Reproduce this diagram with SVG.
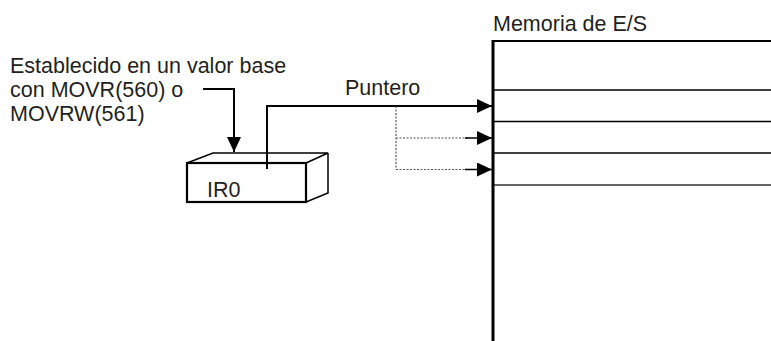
<svg xmlns="http://www.w3.org/2000/svg" width="771" height="341" viewBox="0 0 771 341">
<style>
text{font-family:"Liberation Sans",Arial,sans-serif;font-size:21.5px;fill:#231f20}
.k{stroke:#000;fill:none}
.dot{stroke:#555;fill:none;stroke-width:1.2;stroke-dasharray:2 1.5}
</style>
<defs>
<marker id="ah" markerWidth="15" markerHeight="14" refX="15" refY="7" orient="auto" markerUnits="userSpaceOnUse">
<path d="M0,0 L15,7 L0,14 Z" fill="#000"/>
</marker>
</defs>
<g id="label">
<text x="10" y="73">Establecido en un valor base</text>
<text x="10" y="97">con MOVR(560) o</text>
<text x="10" y="121">MOVRW(561)</text>
</g>
<g id="ir0">
<path class="k" stroke-width="1.5" d="M187,163 L213,153 L328,153 L306,163 M328,153 L328,193 L306,202"/>
<rect class="k" x="187" y="163" width="119" height="39" stroke-width="2.2"/>
<text x="207" y="197">IR0</text>
</g>
<g id="memoria">
<text x="493" y="31">Memoria de E/S</text>
<line class="k" x1="493" y1="41" x2="771" y2="41" stroke-width="2"/>
<line class="k" x1="493" y1="90" x2="771" y2="90" stroke-width="1.5"/>
<line class="k" x1="493" y1="121.5" x2="771" y2="121.5" stroke-width="1.5"/>
<line class="k" x1="493" y1="153" x2="771" y2="153" stroke-width="1.5"/>
<line x1="493" y1="185" x2="771" y2="185" stroke="#333" stroke-width="1.5"/>
<line class="k" x1="493" y1="40" x2="493" y2="341" stroke-width="3"/>
</g>
<g id="puntero">
<text x="345" y="95">Puntero</text>
</g>
<g id="connectors">
<path class="k" stroke-width="2" d="M203,89 L234,89 L234,152" marker-end="url(#ah)"/>
<path class="k" stroke-width="2" d="M267,169 L267,106 L492,106" marker-end="url(#ah)"/>
<path class="dot" d="M396,106 L396,169.5 M396,138 L470,138 M396,169.5 L470,169.5"/>
<line class="k" x1="465" y1="138" x2="492" y2="138" stroke-width="1.5" marker-end="url(#ah)"/>
<line class="k" x1="465" y1="169.5" x2="492" y2="169.5" stroke-width="1.5" marker-end="url(#ah)"/>
</g>
</svg>
